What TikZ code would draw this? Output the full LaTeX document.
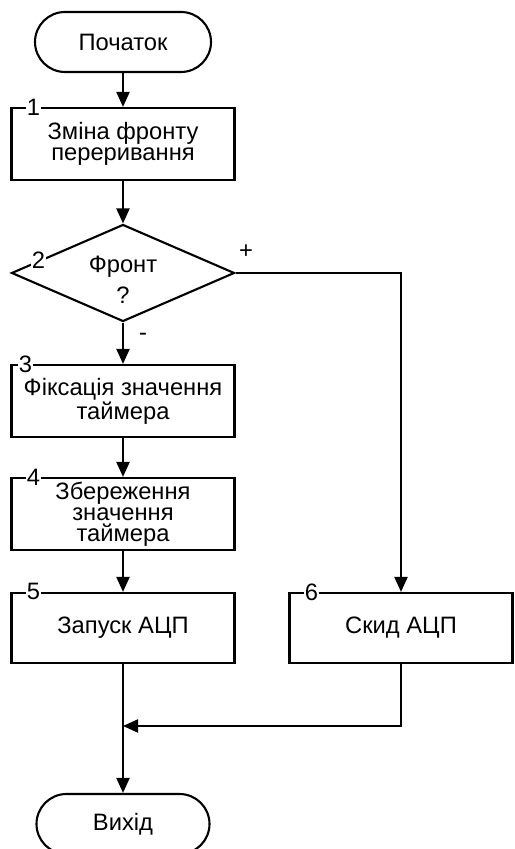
\documentclass[tikz,border=0pt]{standalone}
\usepackage{fontspec}
\setmainfont{Liberation Sans}
\usetikzlibrary{positioning, arrows.meta, shapes.geometric, calc}

\begin{document}
\begin{tikzpicture}[scale=1.0,
  every node/.style={font=\fontsize{13.5}{12}\selectfont},
  term/.style={draw, line width=1.2pt, rounded corners=0.6cm, minimum width=3.52cm, minimum height=1.2cm, inner sep=0pt},
  proc/.style={draw, line width=1.2pt, minimum width=4.46cm, minimum height=1.44cm, inner sep=0pt, align=center},
  cond/.style={draw, diamond, aspect=2.3, line width=1.2pt, minimum width=4.46cm, minimum height=1.94cm, inner sep=0pt, align=center},
  num/.style={fill=white, inner sep=0.5pt},
  arr/.style={line width=1.2pt, -{Triangle[length=3mm,width=2.6mm]}}
]
\useasboundingbox (0,0) rectangle (10.28,16.98);

% blocks
\node[term] (start) at (2.46,16.14) {Початок};
\node[proc] (b1) at (2.46,14.10) {Зміна фронту\\переривання};
\node[cond] (dec) at (2.46,11.52) {\rule{0pt}{17pt}Фронт\\[4.5pt]?};
\node[proc] (b3) at (2.46,8.96) {Фіксація значення\\таймера};
\node[proc] (b4) at (2.46,6.70) {Збереження\\значення\\таймера};
\node[proc, minimum height=1.40cm] (b5) at (2.46,4.42) {Запуск АЦП};
\node[proc, minimum height=1.40cm] (b6) at (8.02,4.42) {Скид АЦП};
\node[term, minimum width=3.46cm] (stop) at (2.46,0.50) {Вихід};
\coordinate (join) at (2.46,2.46);

% connectors
\draw[arr] (start) -- (b1);
\draw[arr] (b1) -- (dec);
\draw[arr] (dec) -- (b3);
\draw[arr] (b3) -- (b4);
\draw[arr] (b4) -- (b5);
\draw[arr] (b5) -- (stop);
\draw[arr] (dec.east) -| (b6.north);
\draw[arr] (b6.south) |- (join);

\node (plus) at (4.92,11.94) {+};
\node (minus) at (2.86,10.24) {-};

% block numbers
\node[num] (n1) at ([xshift=0.46cm]b1.north west) {1};
\node[num] (n2) at ($(dec.west)!0.25!(dec.north)$) {2};
\node[num] (n3) at ([xshift=0.30cm]b3.north west) {3};
\node[num] (n4) at ([xshift=0.46cm]b4.north west) {4};
\node[num] (n5) at ([xshift=0.46cm]b5.north west) {5};
\node[num] (n6) at ([xshift=0.46cm]b6.north west) {6};
\end{tikzpicture}
\end{document}
